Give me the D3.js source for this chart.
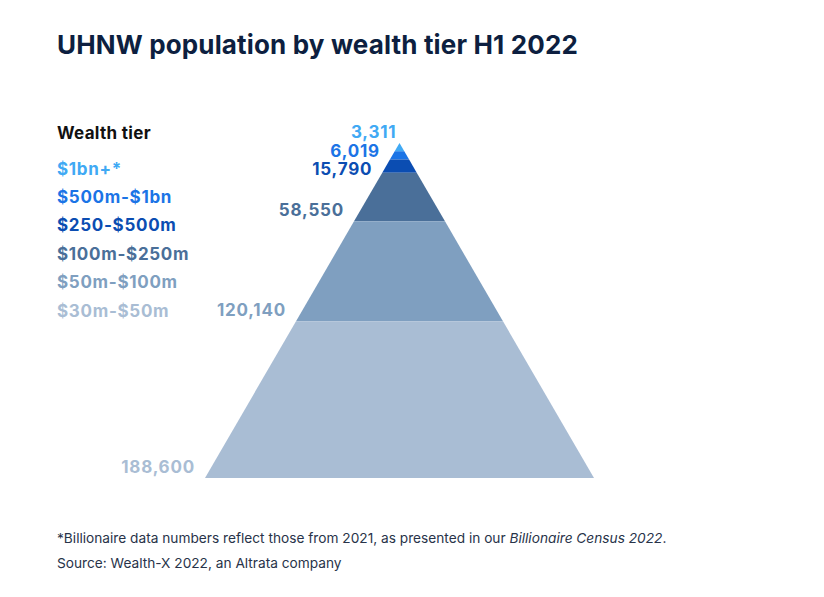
<!DOCTYPE html>
<html>
<meta charset="utf-8">
<style>
  body {
    margin: 0;
    padding: 0;
    background-color: #ffffff;
    font-family: Inter, "Open Sans", sans-serif;
  }
  .title {
    font-size: 26px;
    font-weight: 700;
    letter-spacing: 0.15px;
    fill: #0d1f40;
  }
  .legend-title {
    font-size: 17px;
    font-weight: 700;
    letter-spacing: 0.3px;
    fill: #111111;
  }
  .legend-item {
    font-size: 17px;
    font-weight: 700;
    letter-spacing: 0.7px;
  }
  .value-label {
    font-size: 17px;
    font-weight: 700;
    letter-spacing: 0.8px;
  }
  .note {
    font-size: 13.7px;
    fill: #283349;
  }
</style>
<body>

<script src="https://d3js.org/d3.v7.min.js"></script>

<div id="chart"></div>

<script>

// data, from top of the pyramid to the bottom
var tiers = ["$1bn+*", "$500m-$1bn", "$250-$500m", "$100m-$250m", "$50m-$100m", "$30m-$50m"];
var population = [3311, 6019, 15790, 58550, 120140, 188600];
var tierColors = ["#40a9f4", "#1b74e6", "#0b4db2", "#4a6f99", "#7f9fc0", "#a9bdd4"];

var width = 824, height = 597;

var svg = d3.select("#chart")
  .append("svg")
    .attr("width", width)
    .attr("height", height);

// title
svg.append("text")
  .attr("class", "title")
  .attr("x", 57)
  .attr("y", 54)
  .text("UHNW population by wealth tier H1 2022");

// pyramid geometry
var apexX = 399.5, apexY = 143, baseY = 478, baseHalf = 194.5;
var minLayer = 8.5; // smallest tiers get a minimum height so they stay visible

var total = d3.sum(population);
var hScale = d3.scaleLinear().domain([0, total]).range([0, baseY - apexY]);
var raw = population.map(function(v) { return Math.max(hScale(v), minLayer); });

// stack the layer heights and map them onto the pyramid's height
var cum = [0];
raw.forEach(function(h, i) { cum.push(cum[i] + h); });
var y = d3.scaleLinear().domain([0, cum[cum.length - 1]]).range([apexY, baseY]);
var halfW = d3.scaleLinear().domain([apexY, baseY]).range([0, baseHalf]);

var layers = population.map(function(v, i) {
  return { tier: tiers[i], value: v, color: tierColors[i], y0: y(cum[i]), y1: y(cum[i + 1]) };
});

svg.append("g")
  .selectAll("path")
  .data(layers)
  .enter()
  .append("path")
    .attr("d", function(d) {
      var a = halfW(d.y0), b = halfW(d.y1);
      return d3.line()([
        [apexX - a, d.y0], [apexX + a, d.y0],
        [apexX + b, d.y1], [apexX - b, d.y1]
      ]) + "Z";
    })
    .attr("fill", function(d) { return d.color; });

// value labels on the left side, pushed apart where the layers are thin
var prev = null;
layers.forEach(function(d, i) {
  var base, x;
  if (i == 0) {
    base = apexY - 5;
    x = apexX - 3;
  } else {
    base = Math.max(d.y1 - 5, prev + 18.5);
    x = apexX - halfW(d.y1) - 10;
  }
  prev = base;
  svg.append("text")
    .attr("class", "value-label")
    .attr("x", x)
    .attr("y", base)
    .attr("text-anchor", "end")
    .attr("fill", d.color)
    .text(d3.format(",")(d.value));
});

// legend
svg.append("text")
  .attr("class", "legend-title")
  .attr("x", 57)
  .attr("y", 139)
  .text("Wealth tier");

svg.append("g")
  .selectAll("text")
  .data(layers)
  .enter()
  .append("text")
    .attr("class", "legend-item")
    .attr("x", 57)
    .attr("y", function(d, i) { return 174.5 + i * 28.4; })
    .attr("fill", function(d) { return d.color; })
    .text(function(d) { return d.tier; });

// footnotes
var note = svg.append("text")
  .attr("class", "note")
  .attr("x", 57)
  .attr("y", 543);
note.append("tspan").text("*Billionaire data numbers reflect those from 2021, as presented in our ");
note.append("tspan").attr("font-style", "italic").text("Billionaire Census 2022");
note.append("tspan").text(".");

svg.append("text")
  .attr("class", "note")
  .attr("x", 57)
  .attr("y", 568)
  .text("Source: Wealth-X 2022, an Altrata company");

</script>
</body>
</html>
